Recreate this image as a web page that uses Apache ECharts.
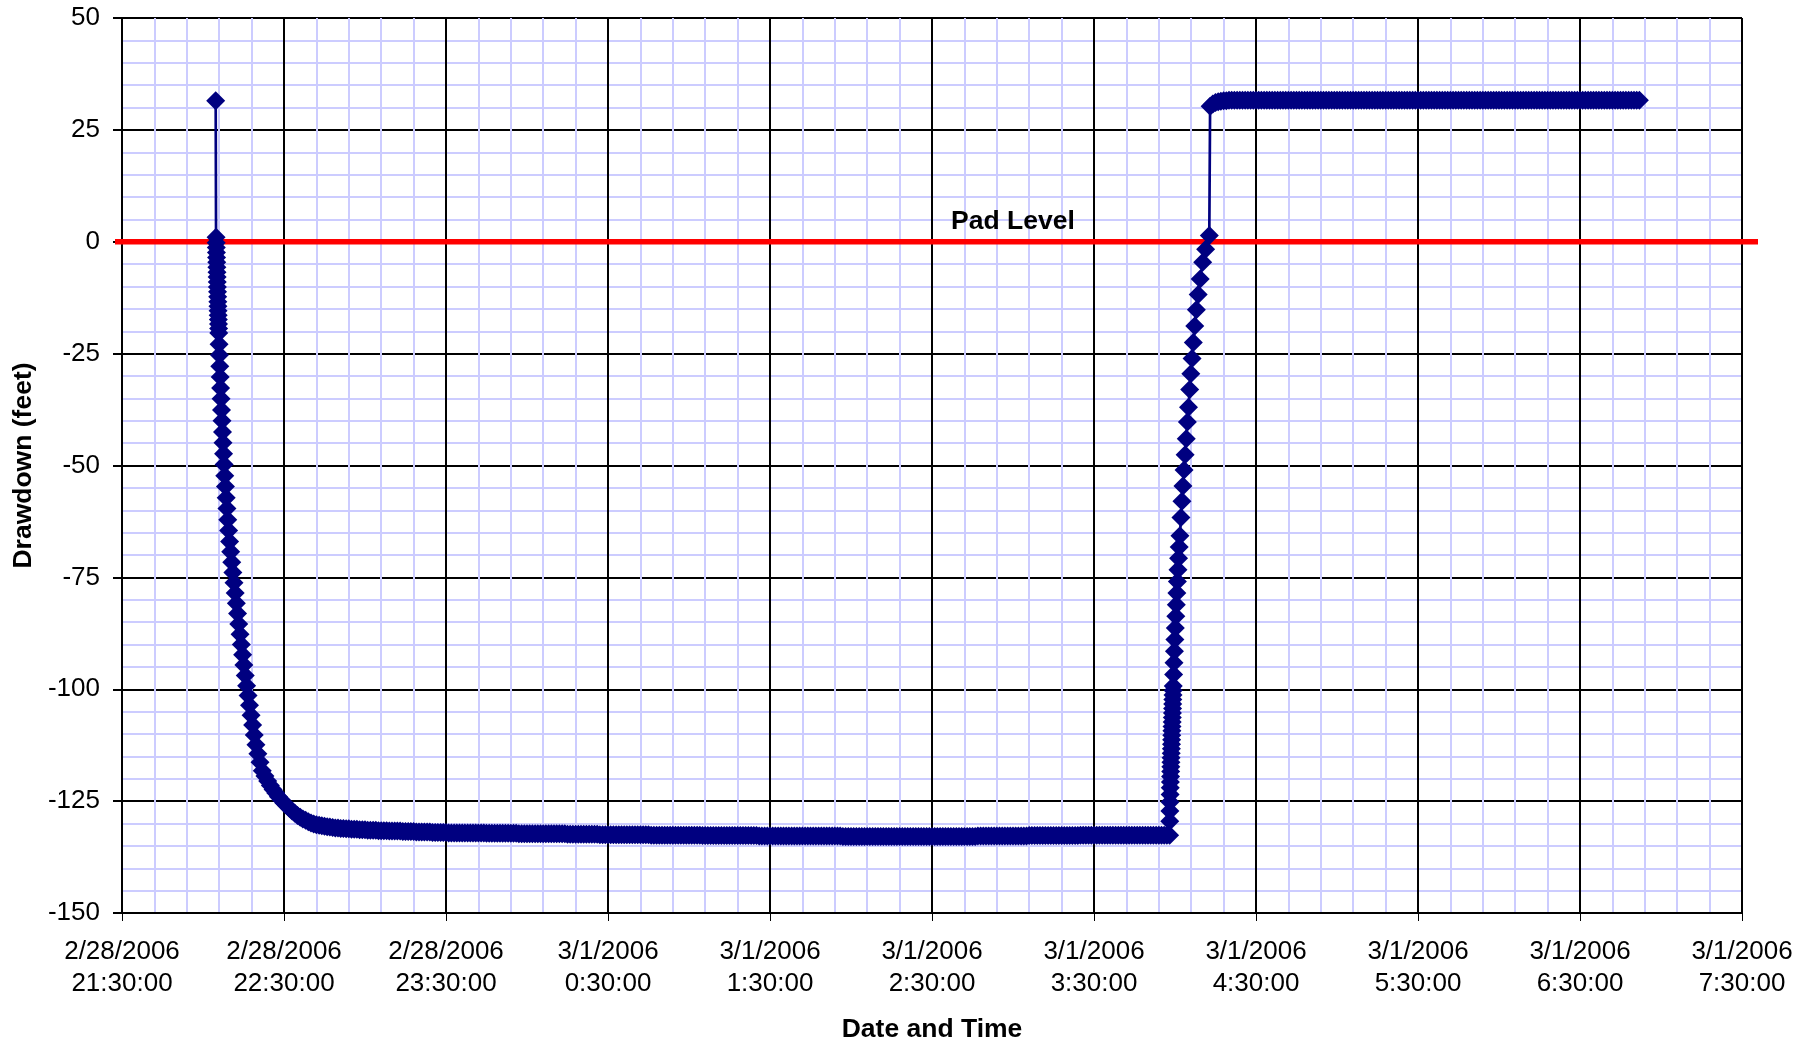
<!DOCTYPE html>
<html>
<head>
<meta charset="utf-8">
<script src="https://cdn.jsdelivr.net/npm/echarts@6/dist/echarts.min.js"></script>
<style>
  html, body { margin: 0; padding: 0; background: #ffffff; }
  #chart { width: 1816px; height: 1045px; }
</style>
</head>
<body>
<div id="chart"></div>
<script>
// Pumping test drawdown record, 2/28/2006 21:30 to 3/1/2006 7:30.
// Times are clock times; readings after midnight belong to 3/1/2006.

const xTickLabels = [
  '2/28/2006\n21:30:00', '2/28/2006\n22:30:00', '2/28/2006\n23:30:00',
  '3/1/2006\n0:30:00', '3/1/2006\n1:30:00', '3/1/2006\n2:30:00',
  '3/1/2006\n3:30:00', '3/1/2006\n4:30:00', '3/1/2006\n5:30:00',
  '3/1/2006\n6:30:00', '3/1/2006\n7:30:00'
];
const yMin = -150, yMax = 50, yStep = 25;

// Start of pumping (logarithmic logger schedule)
const drawdownTimes = [
  '22:04:42', '22:04:50', '22:04:53', '22:04:56', '22:04:59', '22:05:02', '22:05:05', '22:05:08',
  '22:05:11', '22:05:14', '22:05:17', '22:05:20', '22:05:23', '22:05:26', '22:05:29', '22:05:32',
  '22:05:35', '22:05:38', '22:05:41', '22:05:44', '22:05:47', '22:05:50',
  '22:05:57', '22:06:05', '22:06:13', '22:06:22', '22:06:31', '22:06:41', '22:06:51', '22:07:02',
  '22:07:13', '22:07:25', '22:07:37', '22:07:50', '22:08:04', '22:08:19', '22:08:35', '22:08:52',
  '22:09:10', '22:09:30', '22:09:51',
  '22:10:15', '22:10:39', '22:11:04', '22:11:29', '22:11:55', '22:12:21', '22:12:48', '22:13:15',
  '22:13:43', '22:14:11', '22:14:40', '22:15:09', '22:15:39', '22:16:09',
  '22:16:41', '22:17:14', '22:17:48', '22:18:23', '22:18:59', '22:19:36',
  '22:20:20', '22:21:07', '22:21:57',
  '22:22:57', '22:23:57', '22:24:57', '22:25:57', '22:26:57', '22:27:57', '22:28:57', '22:29:57',
  '22:30:57'
];
const drawdownValues = [
  31.5, 1.0, -0.2, -1.3, -2.4, -3.5, -4.6, -5.7,
  -6.8, -7.9, -9.0, -10.1, -11.2, -12.3, -13.4, -14.4,
  -15.4, -16.4, -17.4, -18.4, -19.4, -20.4,
  -22.9, -25.3, -27.8, -30.2, -32.7, -35.1, -37.6, -40.0,
  -42.5, -44.9, -47.4, -49.8, -52.3, -54.7, -57.2, -59.6,
  -62.1, -64.5, -67.0,
  -69.3, -71.6, -73.9, -76.2, -78.5, -80.8, -83.1, -85.4,
  -87.7, -90.0, -92.3, -94.6, -96.9, -99.2,
  -101.4, -103.6, -105.8, -108.0, -110.2, -112.4,
  -114.4, -116.3, -118.2,
  -119.4, -120.5, -121.5, -122.4, -123.2, -124.0, -124.7, -125.4,
  -126.0
];

// Pumping level, one reading per minute from 22:32:00 to 03:57:00
const bottomStart = '22:32:00';
const bottomValues = [
  -126.6, -127.2, -127.7, -128.2, -128.6, -129.0, -129.3, -129.6, -129.9, -130.1,
  -130.3, -130.4, -130.5, -130.6, -130.7, -130.8, -130.9, -131.0, -131.0, -131.1,
  -131.1, -131.2, -131.2, -131.3, -131.3, -131.3, -131.4, -131.4, -131.4, -131.5,
  -131.5, -131.5, -131.5, -131.6, -131.6, -131.6, -131.6, -131.7, -131.7, -131.7,
  -131.7, -131.7, -131.8, -131.8, -131.8, -131.8, -131.8, -131.9, -131.9, -131.9,
  -131.9, -131.9, -131.9, -132.0, -132.0, -132.0, -132.0, -132.0, -132.0, -132.1,
  -132.1, -132.1, -132.1, -132.1, -132.1, -132.1, -132.1, -132.1, -132.1, -132.1,
  -132.1, -132.1, -132.1, -132.2, -132.2, -132.2, -132.2, -132.2, -132.2, -132.2,
  -132.2, -132.2, -132.2, -132.2, -132.2, -132.3, -132.3, -132.3, -132.3, -132.3,
  -132.3, -132.3, -132.3, -132.3, -132.3, -132.3, -132.3, -132.3, -132.3, -132.3,
  -132.3, -132.3, -132.3, -132.4, -132.4, -132.4, -132.4, -132.4, -132.4, -132.4,
  -132.4, -132.4, -132.4, -132.4, -132.4, -132.5, -132.5, -132.5, -132.5, -132.5,
  -132.5, -132.5, -132.5, -132.5, -132.5, -132.5, -132.5, -132.5, -132.5, -132.5,
  -132.5, -132.5, -132.5, -132.5, -132.6, -132.6, -132.6, -132.6, -132.6, -132.6,
  -132.6, -132.6, -132.6, -132.6, -132.6, -132.6, -132.6, -132.6, -132.6, -132.6,
  -132.6, -132.6, -132.6, -132.7, -132.7, -132.7, -132.7, -132.7, -132.7, -132.7,
  -132.7, -132.7, -132.7, -132.7, -132.7, -132.7, -132.7, -132.7, -132.7, -132.7,
  -132.7, -132.7, -132.7, -132.7, -132.8, -132.8, -132.8, -132.8, -132.8, -132.8,
  -132.8, -132.8, -132.8, -132.8, -132.8, -132.8, -132.8, -132.8, -132.8, -132.8,
  -132.8, -132.8, -132.8, -132.8, -132.8, -132.8, -132.8, -132.8, -132.8, -132.8,
  -132.8, -132.8, -132.8, -132.8, -132.8, -132.9, -132.9, -132.9, -132.9, -132.9,
  -132.9, -132.9, -132.9, -132.9, -132.9, -132.9, -132.9, -132.9, -132.9, -132.9,
  -132.9, -132.9, -132.9, -132.9, -132.9, -132.9, -132.9, -132.9, -132.9, -132.9,
  -132.9, -132.9, -132.9, -132.9, -132.9, -132.9, -132.9, -132.9, -132.9, -132.9,
  -132.9, -132.9, -132.9, -132.9, -132.9, -132.9, -132.9, -132.9, -132.9, -132.9,
  -132.9, -132.9, -132.9, -132.9, -132.9, -132.8, -132.8, -132.8, -132.8, -132.8,
  -132.8, -132.8, -132.8, -132.8, -132.8, -132.8, -132.8, -132.8, -132.8, -132.8,
  -132.8, -132.8, -132.8, -132.8, -132.7, -132.7, -132.7, -132.7, -132.7, -132.7,
  -132.7, -132.7, -132.7, -132.7, -132.7, -132.7, -132.7, -132.7, -132.7, -132.7,
  -132.7, -132.7, -132.7, -132.6, -132.6, -132.6, -132.6, -132.6, -132.6, -132.6,
  -132.6, -132.6, -132.6, -132.6, -132.6, -132.6, -132.6, -132.6, -132.6, -132.6,
  -132.6, -132.6, -132.6, -132.6, -132.6, -132.6, -132.6, -132.6, -132.6, -132.6,
  -132.6, -132.6, -132.6, -132.6, -132.6, -132.6
];

// Recovery after the pump stopped (logarithmic logger schedule)
const recoveryTimes = [
  '03:58:00', '03:58:03', '03:58:06', '03:58:09', '03:58:12', '03:58:15', '03:58:18', '03:58:21',
  '03:58:24', '03:58:27', '03:58:30', '03:58:33', '03:58:36', '03:58:39', '03:58:42', '03:58:45',
  '03:58:48', '03:58:51', '03:58:54', '03:58:57', '03:59:00', '03:59:03', '03:59:06', '03:59:09',
  '03:59:12', '03:59:15', '03:59:18', '03:59:21',
  '03:59:29', '03:59:38', '03:59:47', '03:59:57', '04:00:07', '04:00:18', '04:00:29', '04:00:41',
  '04:00:53', '04:01:06', '04:01:19', '04:01:33',
  '04:01:50', '04:02:12', '04:02:34', '04:02:57', '04:03:21', '04:03:45', '04:04:10', '04:04:35',
  '04:05:00', '04:05:26', '04:05:52', '04:06:19', '04:06:47', '04:07:19', '04:07:55', '04:08:35',
  '04:09:20', '04:10:15', '04:11:20', '04:12:42',
  '04:13:00'
];
const recoveryValues = [
  -132.6, -129.5, -127.2, -125.2, -123.5, -122.0, -120.7, -119.5,
  -118.4, -117.3, -116.3, -115.3, -114.3, -113.3, -112.3, -111.3,
  -110.3, -109.3, -108.3, -107.3, -106.3, -105.3, -104.3, -103.3,
  -102.3, -101.3, -100.3, -99.3,
  -96.7, -94.1, -91.5, -88.9, -86.3, -83.7, -81.1, -78.5,
  -75.9, -73.3, -70.7, -68.2,
  -65.7, -61.6, -58.0, -54.6, -51.0, -47.6, -44.0, -40.3,
  -37.0, -33.0, -29.5, -26.1, -22.5, -18.8, -15.2, -11.8,
  -8.3, -4.6, -1.7, 1.4,
  30.3
];

// Transducer out of the water, one reading per minute from 04:14:00 to 06:52:00
const plateauStart = '04:14:00';
const plateauValues = [
  30.8, 31.1, 31.3, 31.4, 31.5, 31.5,
  31.6, 31.6, 31.6, 31.6, 31.6, 31.6, 31.6, 31.6, 31.6, 31.6,
  31.6, 31.6, 31.6, 31.6, 31.6, 31.6, 31.6, 31.6, 31.6, 31.6,
  31.6, 31.6, 31.6, 31.6, 31.6, 31.6, 31.6, 31.6, 31.6, 31.6,
  31.6, 31.6, 31.6, 31.6, 31.6, 31.6, 31.6, 31.6, 31.6, 31.6,
  31.6, 31.6, 31.6, 31.6, 31.6, 31.6, 31.6, 31.6, 31.6, 31.6,
  31.6, 31.6, 31.6, 31.6, 31.6, 31.6, 31.6, 31.6, 31.6, 31.6,
  31.6, 31.6, 31.6, 31.6, 31.6, 31.6, 31.6, 31.6, 31.6, 31.6,
  31.6, 31.6, 31.6, 31.6, 31.6, 31.6, 31.6, 31.6, 31.6, 31.6,
  31.6, 31.6, 31.6, 31.6, 31.6, 31.6, 31.6, 31.6, 31.6, 31.6,
  31.6, 31.6, 31.6, 31.6, 31.6, 31.6, 31.6, 31.6, 31.6, 31.6,
  31.6, 31.6, 31.6, 31.6, 31.6, 31.6, 31.6, 31.6, 31.6, 31.6,
  31.6, 31.6, 31.6, 31.6, 31.6, 31.6, 31.6, 31.6, 31.6, 31.6,
  31.6, 31.6, 31.6, 31.6, 31.6, 31.6, 31.6, 31.6, 31.6, 31.6,
  31.6, 31.6, 31.6, 31.6, 31.6, 31.6, 31.6, 31.6, 31.6, 31.6,
  31.6, 31.6, 31.6, 31.6, 31.6, 31.6, 31.6, 31.6, 31.6, 31.6,
  31.6, 31.6, 31.6
];

// Pad level reference line (runs slightly past both plot edges)
const padLevel = 0;
const padLineFrom = '21:27:24';
const padLineTo = '07:36:00';
const padLabelAt = '03:00:00';
const padLabelText = 'Pad Level';

// Hours elapsed since 2/28/2006 21:30:00 for a clock time (morning hours are on 3/1)
function hoursFromStart(hms) {
  const [h, m, s] = hms.split(':').map(Number);
  const hh = h < 12 ? h + 24 : h;
  return hh + m / 60 + s / 3600 - 21.5;
}

function loggedPairs(times, values) {
  return times.map((t, i) => [hoursFromStart(t), values[i]]);
}
function perMinutePairs(start, values) {
  const x0 = hoursFromStart(start);
  return values.map((v, i) => [x0 + i / 60, v]);
}

const drawdownData = [].concat(
  loggedPairs(drawdownTimes, drawdownValues),
  perMinutePairs(bottomStart, bottomValues),
  loggedPairs(recoveryTimes, recoveryValues),
  perMinutePairs(plateauStart, plateauValues)
);

const FONT = 'Liberation Sans, Arial, sans-serif';

const padData = [
  [hoursFromStart(padLineFrom), padLevel],
  {
    value: [hoursFromStart(padLabelAt), padLevel],
    label: {
      show: true,
      formatter: padLabelText,
      position: 'top',
      distance: 6,
      color: '#000000',
      fontSize: 26.5,
      fontWeight: 'bold',
      fontFamily: FONT
    }
  },
  [hoursFromStart(padLineTo), padLevel]
];

// Main plot area: 122..1742 x 18..913
const PLOT = { top: 18, bottom: 132 };
const chart = echarts.init(document.getElementById('chart'), null, { renderer: 'canvas' });

chart.setOption({
  animation: false,
  backgroundColor: '#ffffff',
  grid: [
    { left: 122, right: 74, top: PLOT.top, bottom: PLOT.bottom, outerBoundsMode: 'none' },
    // wider band for the pad-level line, spanning its own start and end times
    { left: 115, right: 58, top: PLOT.top, bottom: PLOT.bottom, outerBoundsMode: 'none' }
  ],
  xAxis: [
    {
      type: 'value',
      gridIndex: 0,
      min: 0,
      max: xTickLabels.length - 1,
      interval: 1,
      name: 'Date and Time',
      nameLocation: 'middle',
      nameGap: 103,
      nameTextStyle: { fontSize: 26.5, fontWeight: 'bold', color: '#000', fontFamily: FONT },
      axisLine: { show: true, onZero: false, lineStyle: { color: '#000', width: 2 } },
      axisTick: { show: true, length: 8, lineStyle: { color: '#000', width: 1 } },
      axisLabel: {
        fontSize: 26, color: '#000', fontFamily: FONT, lineHeight: 32, margin: 23,
        formatter: v => xTickLabels[Math.round(v)]
      },
      splitLine: { show: true, lineStyle: { color: '#000', width: 2 } },
      minorTick: { show: false, splitNumber: 5 },
      minorSplitLine: { show: true, lineStyle: { color: '#ccccff', width: 2 } }
    },
    {
      type: 'value',
      gridIndex: 1,
      min: hoursFromStart(padLineFrom),
      max: hoursFromStart(padLineTo),
      show: false
    }
  ],
  yAxis: [
    {
      type: 'value',
      gridIndex: 0,
      min: yMin,
      max: yMax,
      interval: yStep,
      name: 'Drawdown (feet)',
      nameLocation: 'middle',
      nameGap: 81,
      nameTextStyle: { fontSize: 26.5, fontWeight: 'bold', color: '#000', fontFamily: FONT },
      axisLine: { show: true, onZero: false, lineStyle: { color: '#000', width: 2 } },
      axisTick: { show: true, length: 9, lineStyle: { color: '#000', width: 2 } },
      axisLabel: { fontSize: 26, color: '#000', fontFamily: FONT, margin: 22 },
      splitLine: { show: true, lineStyle: { color: '#000', width: 2 } },
      minorTick: { show: false, splitNumber: 5 },
      minorSplitLine: { show: true, lineStyle: { color: '#ccccff', width: 2 } }
    },
    {
      type: 'value',
      gridIndex: 1,
      min: yMin,
      max: yMax,
      show: false
    }
  ],
  series: [
    {
      name: 'Pad Level',
      type: 'line',
      xAxisIndex: 1,
      yAxisIndex: 1,
      data: padData,
      symbol: 'circle',
      symbolSize: 1,
      showSymbol: true,
      itemStyle: { color: 'rgba(0,0,0,0)', borderWidth: 0 },
      lineStyle: { color: '#ff0000', width: 5.5 },
      silent: true,
      z: 2
    },
    {
      name: 'Drawdown',
      type: 'line',
      xAxisIndex: 0,
      yAxisIndex: 0,
      data: drawdownData,
      symbol: 'diamond',
      symbolSize: 19,
      showAllSymbol: true,
      itemStyle: { color: '#000080', borderWidth: 0 },
      lineStyle: { color: '#000080', width: 2.7 },
      silent: true,
      z: 3
    }
  ]
});
</script>
</body>
</html>
